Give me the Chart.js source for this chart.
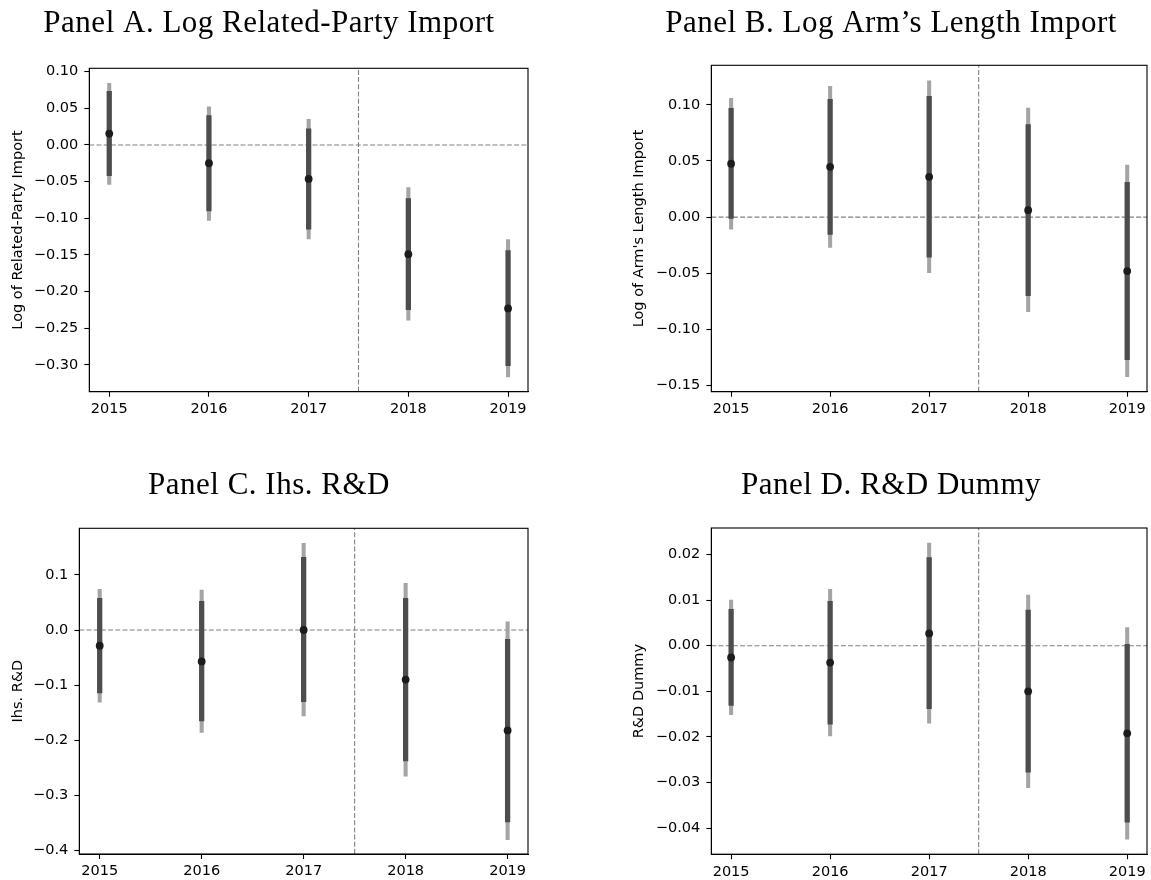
<!DOCTYPE html>
<html>
<head>
<meta charset="utf-8">
<script src="https://cdn.jsdelivr.net/npm/chart.js@4/dist/chart.umd.min.js"></script>
<style>
  html, body { margin: 0; padding: 0; background: #fff; }
  body { width: 1151px; height: 880px; position: relative; overflow: hidden; }
  canvas { position: absolute; }
</style>
</head>
<body>
<canvas id="panelA" width="540" height="440"></canvas>
<canvas id="panelB" width="540" height="440"></canvas>
<canvas id="panelC" width="540" height="440"></canvas>
<canvas id="panelD" width="540" height="440"></canvas>
<script>
// event-study years and the treatment cutoff
var years = [2015, 2016, 2017, 2018, 2019];
var cutoffYear = 2017.5;

// Panel A: log related-party import
var aCoef = [0.0155, -0.025, -0.0464, -0.149, -0.223];
var aLo95 = [-0.054, -0.103, -0.128, -0.239, -0.3165];
var aHi95 = [0.084, 0.052, 0.035, -0.058, -0.129];
var aLo90 = [-0.042, -0.090, -0.115, -0.2245, -0.301];
var aHi90 = [0.073, 0.040, 0.022, -0.073, -0.144];
var aTicks = [-0.30, -0.25, -0.20, -0.15, -0.10, -0.05, 0.00, 0.05, 0.10];

// Panel B: log arm's length import
var bCoef = [0.0475, 0.0448, 0.0359, 0.0062, -0.0481];
var bLo95 = [-0.0107, -0.027, -0.0496, -0.0843, -0.1422];
var bHi95 = [0.1057, 0.1164, 0.1214, 0.097, 0.0463];
var bLo90 = [-0.0012, -0.0154, -0.0356, -0.070, -0.127];
var bHi90 = [0.0968, 0.1048, 0.1075, 0.0825, 0.0309];
var bTicks = [-0.15, -0.10, -0.05, 0.00, 0.05, 0.10];

// Panel C: ihs R&D
var cCoef = [-0.0285, -0.057, 0.0, -0.090, -0.1824];
var cLo95 = [-0.131, -0.186, -0.156, -0.2655, -0.3806];
var cHi95 = [0.074, 0.0727, 0.1576, 0.0848, 0.015];
var cLo90 = [-0.114, -0.165, -0.130, -0.2376, -0.3485];
var cHi90 = [0.0576, 0.052, 0.132, 0.0576, -0.017];
var cTicks = [-0.4, -0.3, -0.2, -0.1, 0.0, 0.1];

// Panel D: R&D dummy
var dCoef = [-0.00256, -0.0037, 0.0027, -0.0100, -0.0192];
var dLo95 = [-0.0151, -0.0198, -0.0170, -0.0311, -0.0424];
var dHi95 = [0.0100, 0.01236, 0.0225, 0.0111, 0.0040];
var dLo90 = [-0.0131, -0.0172, -0.0138, -0.0277, -0.0387];
var dHi90 = [0.0080, 0.0097, 0.0193, 0.0078, 0.0003];
var dTicks = [-0.04, -0.03, -0.02, -0.01, 0.00, 0.01, 0.02];

Chart.defaults.color = '#000';
Chart.defaults.font.family = '"DejaVu Sans", sans-serif';
Chart.defaults.font.size = 14.5;

var panels = [
  { id: 'panelA', title: 'Panel A. Log Related-Party Import', ylabel: 'Log of Related-Party Import',
    coef: aCoef, lo95: aLo95, hi95: aHi95, lo90: aLo90, hi90: aHi90, ticks: aTicks, decimals: 2,
    yMin: -0.3365, yMax: 0.1045,
    canvas: { x: 0, y: 0, w: 540, h: 440 }, area: { l: 89.3, t: 68.3, r: 528, b: 391.7 },
    titleX: 269, titleY: 31.7, ylabelX: 18 },
  { id: 'panelB', title: 'Panel B. Log Arm\u2019s Length Import', ylabel: 'Log of Arm\'s Length Import',
    coef: bCoef, lo95: bLo95, hi95: bHi95, lo90: bLo90, hi90: bHi90, ticks: bTicks, decimals: 2,
    yMin: -0.1555, yMax: 0.1352,
    canvas: { x: 611, y: 0, w: 540, h: 440 }, area: { l: 711.3, t: 65.3, r: 1149.5, b: 391.7 },
    titleX: 891, titleY: 31.7, ylabelX: 639 },
  { id: 'panelC', title: 'Panel C. Ihs. R&D', ylabel: 'Ihs. R&D',
    coef: cCoef, lo95: cLo95, hi95: cHi95, lo90: cLo90, hi90: cHi90, ticks: cTicks, decimals: 1,
    yMin: -0.4067, yMax: 0.1847,
    canvas: { x: 0, y: 440, w: 540, h: 440 }, area: { l: 79.3, t: 528.3, r: 528, b: 854 },
    titleX: 269, titleY: 493.5, ylabelX: 18 },
  { id: 'panelD', title: 'Panel D. R&D Dummy', ylabel: 'R&D Dummy',
    coef: dCoef, lo95: dLo95, hi95: dHi95, lo90: dLo90, hi90: dHi90, ticks: dTicks, decimals: 2,
    yMin: -0.0457, yMax: 0.0258,
    canvas: { x: 611, y: 440, w: 540, h: 440 }, area: { l: 711.3, t: 528, r: 1149.5, b: 854.2 },
    titleX: 891, titleY: 494, ylabelX: 639 }
];

// frame round the plot area and the serif panel title
var framePlugin = {
  id: 'frame',
  afterDatasetsDraw: function(chart) {
    var a = chart.chartArea, ctx = chart.ctx;
    ctx.save();
    ctx.strokeStyle = '#000';
    ctx.lineWidth = 1.1;
    ctx.strokeRect(a.left, a.top, a.right - a.left, a.bottom - a.top);
    ctx.restore();
  },
  afterDraw: function(chart) {
    var p = chart.options.plugins.frame, ctx = chart.ctx;
    ctx.save();
    ctx.fillStyle = '#000';
    ctx.font = '31px "Liberation Serif", serif';
    ctx.letterSpacing = '0.5px';
    ctx.textAlign = 'center';
    ctx.textBaseline = 'alphabetic';
    ctx.fillText(p.title, p.x, p.y);
    ctx.restore();
  }
};

function fmt(v, d) {
  var s = Math.abs(v) < 1e-9 ? (0).toFixed(d) : v.toFixed(d);
  return s.replace('-', '\u2212');
}

panels.forEach(function(p) {
  var el = document.getElementById(p.id);
  el.style.left = p.canvas.x + 'px';
  el.style.top = p.canvas.y + 'px';

  var yAxisW = p.area.l - p.canvas.x;
  var xAxisH = p.canvas.y + p.canvas.h - p.area.b;

  var thin = years.map(function(y, i) { return { x: y, y: [p.lo95[i], p.hi95[i]] }; });
  var thick = years.map(function(y, i) { return { x: y, y: [p.lo90[i], p.hi90[i]] }; });
  var pts = years.map(function(y, i) { return { x: y, y: p.coef[i] }; });

  new Chart(el, {
    type: 'scatter',
    data: {
      datasets: [
        { type: 'line', data: [{ x: 2014.8, y: 0 }, { x: 2019.2, y: 0 }], borderColor: '#808080',
          borderWidth: 1.1, borderDash: [5, 2.2], pointRadius: 0, order: 4 },
        { type: 'line', data: [{ x: cutoffYear, y: p.yMin }, { x: cutoffYear, y: p.yMax }], borderColor: '#808080',
          borderWidth: 1.1, borderDash: [5, 2.2], pointRadius: 0, order: 4 },
        { type: 'bar', data: thin, backgroundColor: '#a4a4a4', borderWidth: 0, barThickness: 3.4,
          grouped: false, order: 3 },
        { type: 'bar', data: thick, backgroundColor: '#4d4d4d', borderWidth: 0, barThickness: 4.6,
          grouped: false, order: 2 },
        { data: pts, backgroundColor: '#1c1c1c', borderWidth: 0, pointRadius: 3.9, order: 1 }
      ]
    },
    options: {
      responsive: false,
      animation: false,
      layout: { padding: { top: p.area.t - p.canvas.y, right: p.canvas.x + p.canvas.w - p.area.r, left: 0, bottom: 0 } },
      plugins: {
        legend: { display: false },
        tooltip: { enabled: false },
        frame: { title: p.title, x: p.titleX - p.canvas.x, y: p.titleY - p.canvas.y }
      },
      scales: {
        x: {
          type: 'linear', min: 2014.8, max: 2019.2, offset: false,
          grid: { offset: false, drawOnChartArea: false, drawTicks: true, tickLength: 5, color: '#000', tickWidth: 1.1 },
          border: { display: true, color: '#000' },
          ticks: { padding: 4, maxRotation: 0, autoSkip: false, callback: function(v) { return String(v); } },
          afterBuildTicks: function(s) { s.ticks = years.map(function(v) { return { value: v }; }); },
          afterFit: function(s) { s.height = xAxisH; s.paddingLeft = 0; s.paddingRight = 0; }
        },
        y: {
          type: 'linear', min: p.yMin, max: p.yMax,
          grid: { offset: false, drawOnChartArea: false, drawTicks: true, tickLength: 5, color: '#000', tickWidth: 1.1 },
          border: { display: true, color: '#000' },
          title: { display: true, text: p.ylabel, font: { size: 14.5 }, padding: { top: p.ylabelX - p.canvas.x - 8.7, bottom: 0 } },
          ticks: { padding: 6, autoSkip: false, callback: function(v) { return fmt(v, p.decimals); } },
          afterBuildTicks: function(s) { s.ticks = p.ticks.map(function(v) { return { value: v }; }); },
          afterFit: function(s) { s.width = yAxisW; s.paddingTop = 0; s.paddingBottom = 0; }
        }
      }
    },
    plugins: [framePlugin]
  });
});
</script>
</body>
</html>
